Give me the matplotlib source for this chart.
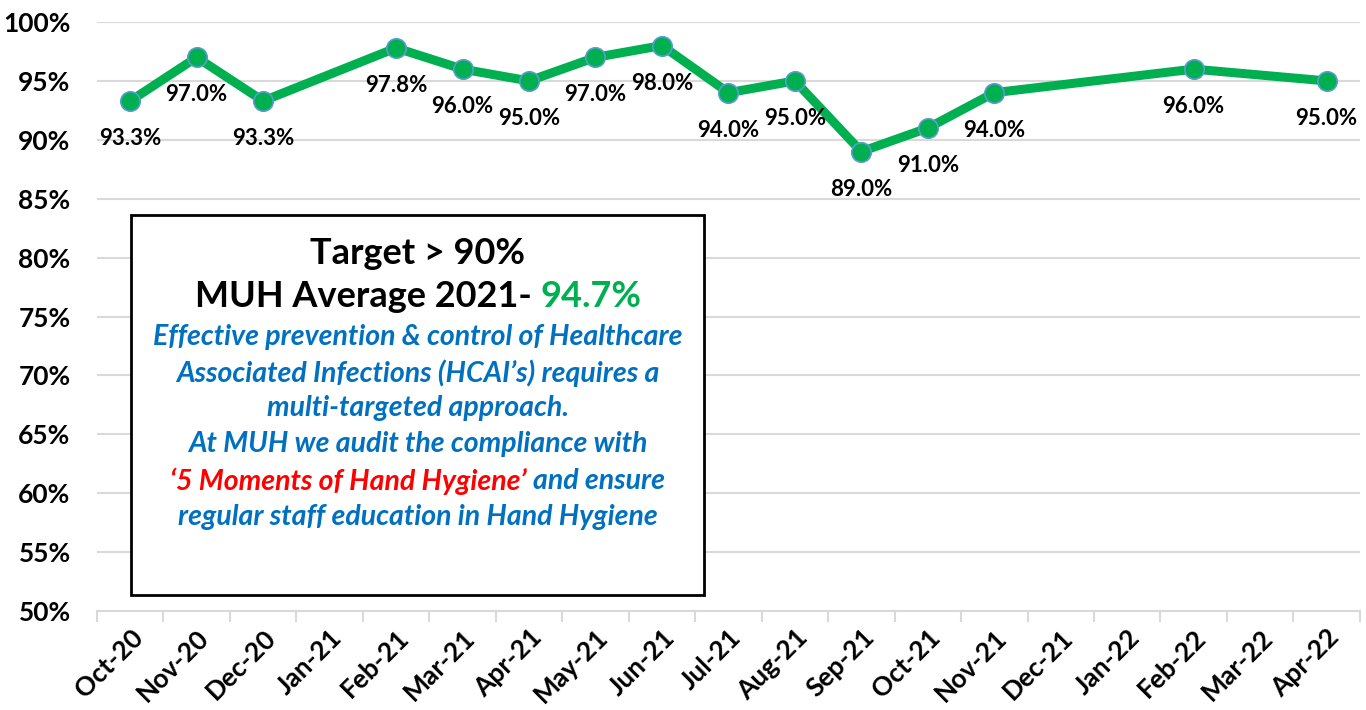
import matplotlib
matplotlib.use("Agg")
import matplotlib.pyplot as plt
from matplotlib.patches import Rectangle
from matplotlib.ticker import FuncFormatter, FixedLocator
import numpy as np

plt.rcParams['font.family'] = ['Lato', 'DejaVu Sans']

months = ["Oct-20", "Nov-20", "Dec-20", "Jan-21", "Feb-21", "Mar-21", "Apr-21",
          "May-21", "Jun-21", "Jul-21", "Aug-21", "Sep-21", "Oct-21", "Nov-21",
          "Dec-21", "Jan-22", "Feb-22", "Mar-22", "Apr-22"]
compliance = [93.3, 97.0, 93.3, None, 97.8, 96.0, 95.0, 97.0, 98.0, 94.0,
              95.0, 89.0, 91.0, 94.0, None, None, 96.0, None, 95.0]

GREEN = "#00B050"
BLUE = "#0070C0"
RED = "#FF0000"

fig = plt.figure(figsize=(13.66, 7.10), dpi=100)
ax = fig.add_axes([0.071, 0.1394, 0.9245, 0.8296])

# only months with an audit value; the line joins across the gaps
xs = [i for i, v in enumerate(compliance) if v is not None]
ys = [v for v in compliance if v is not None]

ax.plot(xs, ys, color=GREEN, lw=6.5, zorder=3, solid_joinstyle="round",
        marker="o", markersize=14, markerfacecolor=GREEN,
        markeredgecolor="#5B9BD5", markeredgewidth=1.2)

for x, y in zip(xs, ys):
    ax.annotate(f"{y:.1f}%", (x, y), xytext=(0, -27), textcoords="offset points",
                ha="center", va="center", fontsize=16, fontweight="bold", zorder=4)

ax.set_xlim(-0.5, len(months) - 0.5)
ax.set_ylim(50, 100)
ax.set_yticks(np.arange(50, 101, 5))
ax.yaxis.set_major_formatter(FuncFormatter(lambda v, p: f"{v:.0f}%"))
ax.grid(axis="y", color="#d9d9d9", lw=1.5, zorder=0)

ax.set_xticks(range(len(months)))
ax.set_xticklabels(months, rotation=45, ha="right", rotation_mode="anchor",
                   fontsize=19, fontweight="bold")
ax.xaxis.set_minor_locator(FixedLocator(np.arange(-0.5, len(months), 1)))
ax.tick_params(axis="x", which="major", length=0, pad=10)
ax.tick_params(axis="x", which="minor", length=8, width=1.5, color="#d9d9d9")
ax.tick_params(axis="y", length=0, pad=19, labelsize=19)
for lbl in ax.get_yticklabels():
    lbl.set_fontweight("bold")

for s in ["top", "right", "left"]:
    ax.spines[s].set_visible(False)
ax.spines["bottom"].set_color("#d9d9d9")
ax.spines["bottom"].set_linewidth(1.5)

# text box
ax.add_patch(Rectangle((0.027, 0.027), 0.454, 0.645, transform=ax.transAxes,
                       fill=True, facecolor="white", edgecolor="black", lw=2, zorder=5))

cx = 0.254


def yfrac(py):
    return (611 - py) / 589


ax.text(cx, yfrac(253), "Target > 90%", transform=ax.transAxes, ha="center",
        va="center", fontsize=26, fontweight="bold", zorder=6)

blue_lines = [
    (337, "Effective prevention & control of Healthcare"),
    (373, "Associated Infections (HCAI\u2019s) requires a"),
    (408, "multi-targeted approach."),
    (444, "At MUH we audit the compliance with"),
    (517, "regular staff education in Hand Hygiene"),
]
for py, s in blue_lines:
    ax.text(cx, yfrac(py), s, transform=ax.transAxes, ha="center", va="center",
            fontsize=20.5, fontweight="bold", style="italic", color=BLUE, zorder=6)


def mixed_line(py, parts, **kw):
    texts = [ax.text(0, yfrac(py), s, transform=ax.transAxes, ha="left",
                     va="center", color=c, zorder=6, **kw) for s, c in parts]
    fig.canvas.draw()
    r = fig.canvas.get_renderer()
    inv = ax.transAxes.inverted()
    widths = []
    for t in texts:
        bb = t.get_window_extent(renderer=r)
        x0 = inv.transform((bb.x0, 0))[0]
        x1 = inv.transform((bb.x1, 0))[0]
        widths.append(x1 - x0)
    start = cx - sum(widths) / 2
    for t, w in zip(texts, widths):
        t.set_x(start)
        start += w


mixed_line(296, [("MUH Average 2021- ", "black"), ("94.7%", GREEN)],
           fontsize=26, fontweight="bold")
mixed_line(481, [("\u20185 Moments of Hand Hygiene\u2019 ", RED), ("and ensure", BLUE)],
           fontsize=20.5, fontweight="bold", style="italic")

fig.savefig("out.png", dpi=100)
